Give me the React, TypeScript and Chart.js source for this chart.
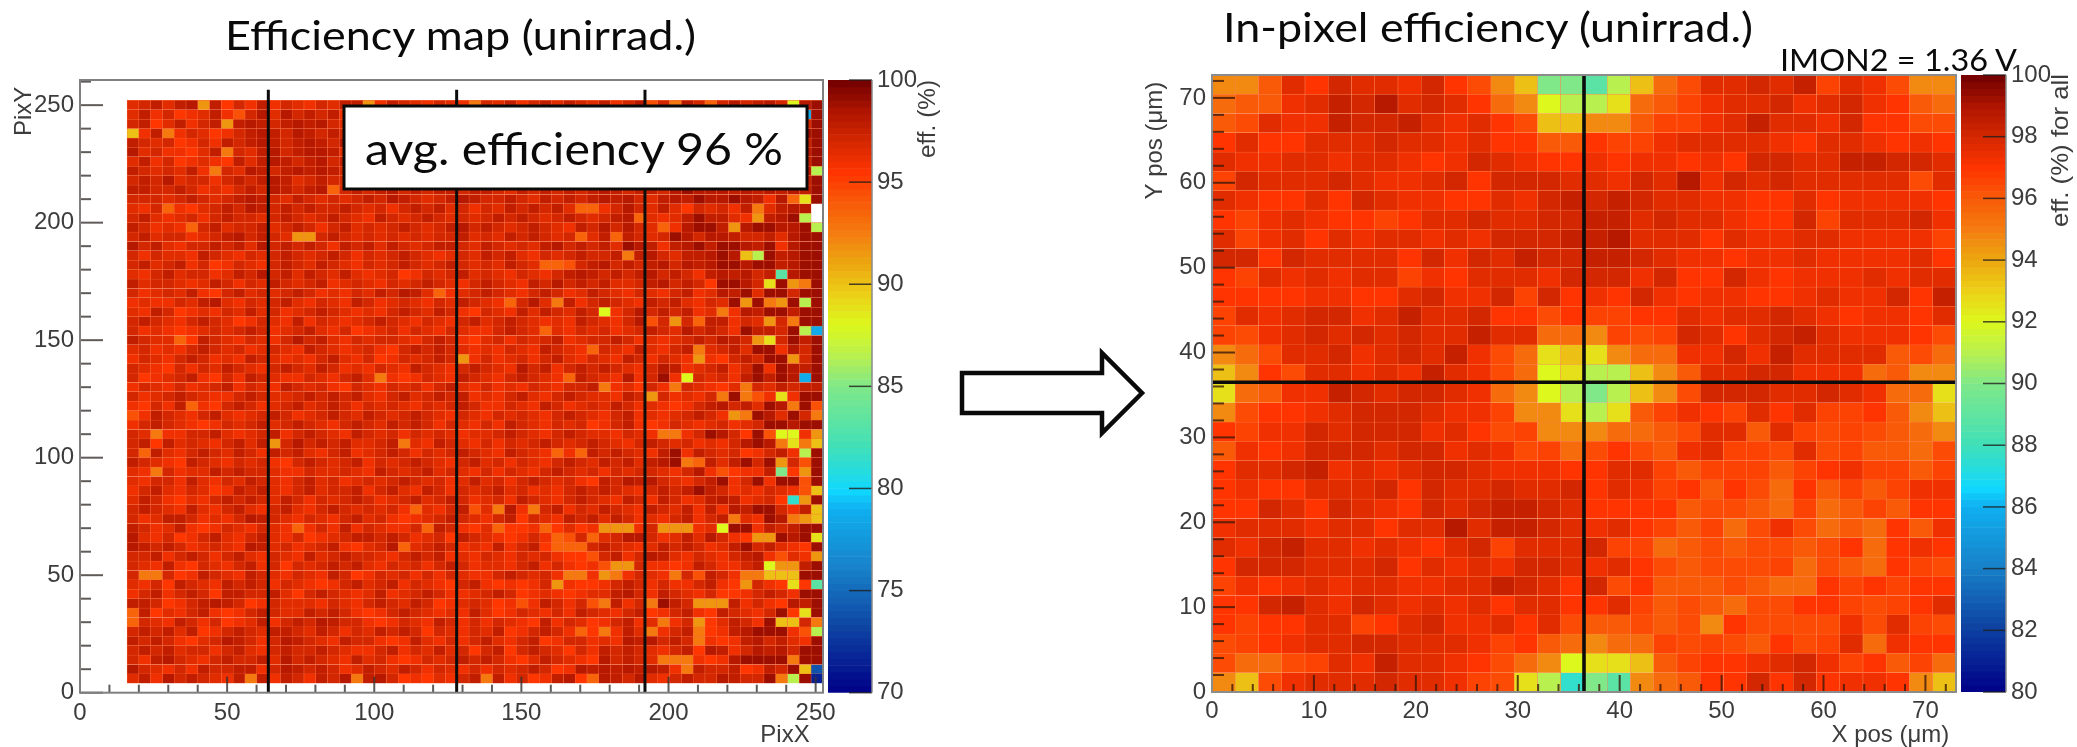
import React, { useEffect, useRef } from "react";
import Chart from "chart.js/auto";

// Colour levels, as a position on the colour bar (0 = bottom, 1 = top).
const LEVELS: Record<string, number> = {
  a: 0.965, b: 0.94, c: 0.915, d: 0.89, e: 0.87, f: 0.85, g: 0.83, h: 0.81, i: 0.785, j: 0.755, k: 0.72,
  l: 0.67, m: 0.63, n: 0.6, o: 0.55, p: 0.5, q: 0.44, r: 0.38, s: 0.33, t: 0.29, u: 0.13, v: 0.05,
};
// The pixel map's ordinary cells sit a little higher on its 70-100 bar.
const PIXEL_LEVELS: Record<string, number> = { c: 0.925, d: 0.903, e: 0.885, f: 0.868, g: 0.848 };
// The in-pixel map's darkest cells stop short of the maroon end of the bar; its orange cells are redder.
const IN_PIXEL_LEVELS: Record<string, number> = { a: 0.94, b: 0.92, c: 0.902, d: 0.885, e: 0.868, h: 0.82, i: 0.8, j: 0.775, k: 0.735 };

const PALETTE: [number, string][] = [
  [0, "#000088"], [0.1, "#0d3fa0"], [0.2, "#1880c8"], [0.3, "#10b0f0"], [0.33, "#10d8ff"], [0.4, "#40e0b8"],
  [0.5, "#80e888"], [0.55, "#b8f050"], [0.6, "#dcf81c"], [0.65, "#ecd018"], [0.7, "#eca810"], [0.75, "#f47c10"],
  [0.8, "#f85a08"], [0.85, "#ff3400"], [0.9, "#d42800"], [0.95, "#ae1400"], [1, "#700000"],
];

// In-pixel map: 32 rows (top to bottom) of 32 columns.
const IN_PIXEL_ROWS = [
  "kkidfcddecfhklpp" + "qoljhddcdbgdehkk",
  "jiiedbcadcdfjkno" + "omjigeddcedcefij",
  "ihdeebccbdedfhll" + "kkiggedbddecffhh",
  "fdffdddcddedffii" + "fggeddddefddefef",
  "deeddeddefecdeff" + "efeefefccddbbccd",
  "gcdddcdeedcfcccd" + "decdaecdcdddddhd",
  "deffdfcdeeffdecb" + "cbcddeeffdfeeeef",
  "fgedeffgfddcddcc" + "bbdcddeffcgdddce",
  "dgedfdeddedecccb" + "badddfdeeddeeeeg",
  "ccfcddddfcecdbcc" + "bbcdeefeedeeeedf",
  "fgdededdgefdddec" + "ccecffcefeeededd",
  "ffffeeffdceecgcf" + "efcefeeffedeecfb",
  "gdedccedbddcffhf" + "ggffdeddcdefeefd",
  "ghedcdcdcddbddjj" + "kghgcdfdcbdeeefh",
  "kjhddcedcdbehjml" + "mkjjeecebddddihj",
  "lkfhddedebdehjnm" + "oolkiddcceeejikk",
  "mjieebcdccdejkno" + "polkhcccddcdejjm",
  "khffedcccdeegkkm" + "omigefgdfdggfikl",
  "fgeecdcccedfhgkk" + "kjjihddidghghijk",
  "iefecccdccedehgj" + "hfhiedgghdhgiijh",
  "fddcbededccdeeef" + "fddgigggigfeggig",
  "feffdddcfcddcddc" + "fdegfifhjfigigee",
  "ffcdfcdefcdcbbcd" + "ffffihhijgjigiff",
  "edddeddfddadbbcd" + "edfgigjhehjijfie",
  "decbddedefdcgddd" + "cggjihihhihfjfef",
  "fcccdddcfdedeccd" + "edfhihhhgjhijfgh",
  "gefededdeeddbcdf" + "chfiiihijjfgfgff",
  "ffcbdecdededfddf" + "fdgihijhhffghgfd",
  "fgffddgfdceedfdh" + "iihihkfhhhhehdgh",
  "hgfeddccdddegfij" + "kjjghghifhgdjeff",
  "hjjhgdebddefhjkn" + "mmligffedcegfigj",
  "klhedddcddeghmor" + "pqkjiffcfcfeefkl",
];

// Pixel map: 62 rows (top to bottom) of 59 columns; "." = no cell drawn (empty or under the label box).
const HID = ".......... .......... ..........";
const PIXEL_ROWS = [
  "edcecbfcgd fcfdefdecc efcdefdefe decfdcecde cfdbhdcbdc dbdcbdcba",
  "ecfdgfecfh dbebdcdcf. " + HID + " .......ta",
  "dcgecfdcdc bcdcbcbde. " + HID + " .......da",
  "kfcefdegfd cbcdbcdcd. " + HID + " .......aa",
  "cdedgfdfcd cbcdcbcdb. " + HID + " .......ca",
  "bedffgecbd ecbdcbbce. " + HID + " .......ba",
  "ecfdgfefgc ecbcdcbdc. " + HID + " .......ca",
  "cdedecffde bcdcbcbcd. " + HID + " .......ba",
  "dcdbeddfdc dcbcedcdd. " + HID + " .......ca",
  "ccddcdfefd cdbcdcbidc dcbdcdccdc cdecdcdcdc bcdccdbabb bcbcbcbca",
  "dddedcdedc bcdecdeded cdbcdedcbc ddcdecdcdc bcbdecbcab babcfbcba",
  "efdifgedcd bcdcdcddcd edfdcdcedf decdcdceid fdbdecegde dfcdecbb.",
  "dcefedfdcd dedcdedcde fcdedcdede dcdcdedcde dcbdefecdc cefdcbab.",
  "cdfefidced dcedcdfdce dedcdedcbd cdedcdefcd bdbdeafbab cbbcbbbaa",
  "dceddfedcb dcdefkdcde dedededdce decdcdedie cdcdedabdb bcddcebaa",
  "bdcefddcdc ebdcdcdfcd cecdedccde cdedecbdcd ceabcfcbdc bcbccfbaa",
  "dfdeefcdef dedcdedcdf dedcdefede cdcefdedcd dcecbdeccb cbbddcbaa",
  "dcedcfdgfd efdcdecdef dedcdedcde decdefihdc bdcdcbdbcb abbabcbaa",
  "efdceddfec dbdcecdece fedgfdedce defdefdcbc dcdcbdcdfc bcbdcfbaa",
  "ceddefecdf decdedcfed efdedcdefd cdefcdbdcd ceedcbdcdg babdcbbba",
  "dfedecfgdc ededcdfefd ecdbcedfed cdefdcdfec defdefdcfe bcbecddba",
  "feffdecbef dedcefdefc dfedefdecd efcdbedcfd cdefcdcefd ecbbcabca",
  "efcdgfefde cedfedcdef efdcdecdfg defcecdecd dfdbdcdcfe dfbcbbcaa",
  "dcdefdcdeg fdefcfdefe dcdefdefdc edcdefefcd efdbhdfdec cfdebdcba",
  "dfefgfeded cdfedcefdg fedfdefdef fdcdedefde dfedcdebdc dfeccdbca",
  "cdeefgcdef defdbdcefd eddefdcdfg edfdedcfed dcdfefedcd bcdfedcca",
  "edfefdcded fedefcdefe dfgdcdcdef efdefcdefd defcefdcfe dcedcfbda",
  "fdefdcdfef cdefefdcef dgfdedcdef dfedfdcefd efcdfdefcf gdcdacbda",
  "defgdfdecd efdcdecdfe fdefcdefdc defbdcfdcd cdefdbcfed cfdefcbca",
  "dgfedcfgdf cdeffdefdc edfgfdefcd efdcdeffcd efbfdefcde dfcgcabfa",
  "fdefdfedcf defcdedfgd efdedfdcef dfefdefddc hfegdfcdef gefdecdcc",
  "dfedcdeffd cdeedcdcdc efdcedcdcf efdcefdcde efcdcdfefd ccbhfefab",
  "fgdfcdfgdc dfedcedcdf dedefdedcd ffdefcdfed ecdfefgfdc bdcefbcfh",
  "hfcdefdcef edcdfedcde cdedcdefde fdedefdcde fdcfefedcd fcdgbecdj",
  "fdcdefgfde dcedcdefdc decdcdfdef dfcdefdedg fdcfgfdefe dfedfcbcb",
  "defffddcef edcfdcdefc dedfdedefe edcdefdcde efdefhgfdc bdgbhfffk",
  "dcgcedefdc ecedbdcdce edcdefcdef dfdedcdedc defdcdedfe fdbcbhmjl",
  "dgcefdcdec dfcdcefdcf edcdfdedcd efcdefefic dcdefcefcd edgfdcfoa",
  "cdefgcdefd edfgdcdedc fdedcdefdc edfdefdcde cdcecbgfdc ecbdcfdha",
  "efjdfeecdc ddeffdeede fcdedcedef dfdefdcded fdeddefdbf hgffcdgka",
  "efddfcefde cdefdcedfe dedcdedfec edfdcdedfg cdbcbdefdc bfdefbbha",
  "fdcefdegfc dcefdceddc fdcefcdfde dcedfefdcd cdefdcdcdc dfefdefhl",
  "ecdfgefdcd cdecdfdedc dfedcedcdf edfcdefdcd efcdfcdfec bcfedgrha",
  "dcdefcefdc efdcefdcde dedfdefdch edbfjdcfde cdefcdecfc fbcbcdfcl",
  "dfeccdfefd bcdefdefdc edfgfedcde fdcgdefcdc ecdfefdcfd cdefcbjkl",
  "cdfecfgfde fdefkfdfcf deffdicdfg efggfigegf kcefdkkkfe fnafcdcaa",
  "befdgfdcef dcefdgfedc cdcdfedgcd efgfdfihdc edbbdfeceb dfggfebcn",
  "bcdcdfedef bcedfedcfg edbcedcdfe fcfdcgiiid cdefecdcdf ecbdcefga",
  "ddcfdcdfdc efdefcedcd defdcdcfef defdedfggh dcfdbcefde fdcbfhefk",
  "defcfgdefd cfdgdedcdc efdedfdcdf eefdcfdfgf hicdffgfcd ffdcdnkca",
  "dijdgfcdef cdefdefcdg fdedfdfdef fdcdedfjgf kjfdefgdhc dfcjflldb",
  "efdgcdefcd cdfdefgfdc edcfdefgdc fgfgfdefgg fdcdfdffdc fgkdfgmgq",
  "fdcfdcdgcc ddcegdcdef ecfedcdffe dcdgfefgfe ecbdfcdefd ggfdcdfba",
  "ccdgfdcbcd gfdeeefdef dcdecdgfed egfhfcdfdh jcfdfkcdfk fcfdfgbcb",
  "bcgefdcfgf dcdeecdcdf gfdcdefefc egfdefdfcd efdcgfdcfg cdefdbgmb",
  "idefcdfdgf ecfdcdbcdd fgfdefcdfd fdefgcfdeg fdcfejfdkg ecdfcaldj",
  "dcdcecgfdc deccdecdfd ecdcdgdefd ecgfdcdfdg gfcejfdcjg fcbcbbfhb",
  "cdcdfgedbc dfdbcdefcd dfgfcefdfd cefdcgfddf efbcbdcdjf gfcbdcefb",
  "dcdceddfdc efdcddcdef fdcfdecedg dcgdcdegdf cdcdefdcgb cfdbcbdaa",
  "dfcbdefdcd dcebdcdefc edfgfdedcd cdfgecdefg bdcdefjcfg fbcbfaiaa",
  "bdefdfcddc cfdbcdcdfe cdecdfdefd fdedcdgfbc bcbcbcfjcd dcgfcdcld",
  "ecfbdcdefc jcfcdfcdbj cbdgfgefdc jcfdgfcbgi bcdbefdcdd bcddgjoad",
];

// Individually read pixels: [row, column] of the darkest cells.
const PIXEL_DARK: number[][] = [
  [12, 48], [13, 49], [13, 48], [13, 53], [13, 54], [15, 48], [15, 51], [15, 50], [16, 50], [15, 54], [16, 54], [17, 54],
  [17, 51], [19, 50], [20, 52], [20, 54], [19, 55], [20, 55], [20, 57], [21, 53], [21, 51], [22, 54], [22, 55], [21, 56],
  [23, 57], [24, 52], [24, 56], [25, 56], [26, 53], [26, 54], [27, 54], [27, 55], [28, 53], [28, 55], [29, 53], [29, 45],
  [31, 51], [31, 57], [31, 58], [32, 54], [32, 57], [33, 53], [33, 56], [34, 54], [34, 55], [34, 57], [34, 58], [35, 49],
  [35, 53], [36, 53], [37, 46], [37, 58], [38, 46], [38, 52], [38, 54], [38, 58], [39, 58], [40, 50], [40, 53], [40, 55],
  [40, 56], [41, 48], [42, 58], [43, 54], [43, 53], [44, 54], [45, 51], [45, 57], [45, 58], [46, 55], [46, 57], [47, 52],
  [47, 58], [49, 58], [50, 57], [50, 58], [52, 57], [52, 58], [53, 45], [53, 58], [54, 55], [54, 58], [55, 54], [56, 55],
  [56, 53], [56, 54], [57, 58], [58, 57], [58, 58], [59, 57], [59, 58], [59, 52], [59, 53], [59, 54], [59, 55], [60, 56],
  [61, 54], [61, 57],
];

// Individually read pixels of a lighter colour: [row, column, level].
const PIXEL_LIGHT: [number, number, string][] = [
  [0, 56, "n"], [0, 46, "j"], [0, 49, "i"], [1, 57, "t"], [7, 58, "o"], [10, 57, "m"], [10, 56, "i"], [11, 53, "j"], [12, 53, "k"],
  [12, 57, "o"], [13, 58, "o"], [13, 51, "k"], [13, 45, "i"], [16, 52, "l"], [16, 53, "o"], [16, 42, "j"], [18, 55, "q"], [19, 54, "m"],
  [19, 56, "k"], [19, 57, "j"], [21, 52, "k"], [21, 54, "j"], [21, 55, "k"], [21, 57, "o"], [22, 50, "j"], [23, 46, "k"], [23, 54, "k"],
  [23, 56, "j"], [23, 48, "i"], [24, 57, "o"], [24, 58, "t"], [25, 54, "m"], [25, 53, "k"], [26, 48, "j"], [27, 48, "k"], [27, 56, "k"],
  [29, 47, "n"], [29, 57, "t"], [30, 46, "j"], [30, 52, "j"], [0, 6, "k"], [0, 20, "k"], [0, 29, "j"], [2, 8, "k"], [3, 0, "l"], [3, 3, "j"],
  [5, 8, "j"], [7, 7, "j"], [9, 17, "i"], [11, 3, "i"], [11, 39, "i"], [13, 5, "i"], [14, 14, "k"], [14, 41, "i"], [12, 43, "i"], [17, 35, "i"],
  [20, 26, "i"], [21, 32, "i"], [21, 36, "j"], [22, 40, "n"], [25, 4, "i"], [24, 35, "i"], [26, 39, "i"], [27, 28, "k"], [29, 37, "i"],
  [29, 21, "j"], [30, 40, "j"], [31, 44, "k"], [31, 50, "j"], [31, 52, "j"], [31, 55, "m"], [32, 56, "j"], [32, 5, "i"], [33, 51, "k"],
  [33, 52, "j"], [33, 58, "j"], [35, 55, "n"], [35, 56, "n"], [35, 45, "j"], [35, 46, "j"], [35, 58, "k"], [35, 2, "j"], [36, 56, "m"],
  [36, 57, "j"], [36, 58, "l"], [36, 55, "j"], [36, 12, "k"], [36, 23, "j"], [37, 57, "o"], [37, 1, "i"], [37, 36, "i"], [38, 55, "k"],
  [38, 47, "j"], [38, 48, "i"], [39, 55, "p"], [39, 57, "k"], [39, 2, "j"], [41, 58, "l"], [42, 56, "r"], [42, 57, "k"], [43, 58, "l"],
  [43, 31, "j"], [43, 24, "i"], [44, 58, "l"], [44, 56, "j"], [44, 57, "k"], [44, 51, "j"], [45, 50, "n"], [45, 45, "k"], [45, 46, "k"],
  [45, 47, "k"], [45, 42, "k"], [45, 41, "k"], [45, 14, "i"], [45, 31, "i"], [46, 58, "m"], [46, 53, "k"], [46, 54, "k"], [46, 39, "i"],
  [47, 23, "i"], [47, 36, "i"], [47, 37, "i"], [47, 38, "i"], [48, 58, "k"], [49, 54, "n"], [49, 55, "k"], [49, 41, "k"], [49, 42, "k"],
  [50, 54, "l"], [50, 55, "l"], [50, 46, "j"], [50, 52, "j"], [50, 1, "j"], [50, 2, "j"], [50, 38, "j"], [51, 52, "k"], [51, 56, "m"],
  [51, 58, "q"], [51, 36, "k"], [53, 44, "j"], [53, 48, "k"], [53, 50, "k"], [54, 57, "m"], [54, 0, "i"], [55, 48, "k"], [55, 45, "j"],
  [55, 55, "l"], [55, 58, "j"], [56, 58, "o"], [56, 48, "j"], [56, 40, "j"], [56, 38, "i"], [57, 48, "j"], [59, 47, "j"], [59, 45, "j"],
  [59, 56, "j"], [60, 57, "l"], [60, 58, "u"], [60, 47, "j"], [61, 55, "j"], [61, 56, "o"], [61, 58, "v"], [61, 10, "j"], [61, 19, "j"],
  [61, 30, "j"], [61, 39, "i"],
];

const PIXEL_X_TICKS = [0, 50, 100, 150, 200, 250];
const PIXEL_Y_TICKS = [0, 50, 100, 150, 200, 250];
const IN_PIXEL_TICKS = [0, 10, 20, 30, 40, 50, 60, 70];
const CORE_COLUMN_EDGES = [64, 128, 192];
const IN_PIXEL_CENTRE = 36.5;

const TICK_FONT = "'Liberation Sans', Arial, sans-serif";
const TEXT = "#3c3c3c";

function colorAt(t: number): string {
  let i = 0;
  while (i < PALETTE.length - 2 && t > PALETTE[i + 1][0]) i++;
  const [t0, c0] = PALETTE[i];
  const [t1, c1] = PALETTE[i + 1];
  const f = Math.min(1, Math.max(0, (t - t0) / (t1 - t0)));
  const p = (c: string, o: number) => parseInt(c.slice(o, o + 2), 16);
  const m = (o: number) => Math.round(p(c0, o) + (p(c1, o) - p(c0, o)) * f);
  return `rgb(${m(1)},${m(3)},${m(5)})`;
}

type Cell = { x: number; y: [number, number]; v: number };

function buildCells(grid: string[], levels: Record<string, number>, x0: number, dx: number, yTop: number, dy: number, zMin: number, zMax: number) {
  const cells: Cell[] = [];
  const colors: string[] = [];
  grid.forEach((row, r) => {
    [...row].forEach((ch, c) => {
      const t = levels[ch];
      if (t === undefined) return;
      cells.push({ x: x0 + (c + 0.5) * dx, y: [yTop - (r + 1) * dy, yTop - r * dy], v: zMin + t * (zMax - zMin) });
      colors.push(colorAt(t));
    });
  });
  return { cells, colors };
}

function pixelGrid(): string[] {
  const g = PIXEL_ROWS.map((s) => [...s.replace(/ /g, "").padEnd(59, "e").slice(0, 59)]);
  PIXEL_DARK.forEach(([r, c]) => (g[r][c] = "a"));
  PIXEL_LIGHT.forEach(([r, c, l]) => (g[r][c] = l));
  g[11][58] = ".";
  g[12][58] = ".";
  return g.map((a) => a.join(""));
}

type TickSpec = { xMajor: number; xMinor: number; yMajor: number; yMinor: number; xM: number; xm: number; yM: number; ym: number; color: string; frame: string };

const rootFrame = (s: TickSpec) => ({
  id: "rootFrame",
  afterDatasetsDraw(chart: any) {
    const { ctx, chartArea: a, scales } = chart;
    ctx.save();
    ctx.strokeStyle = s.color;
    ctx.lineWidth = 2;
    const x = scales.x;
    const y = scales.y;
    for (let v = 0; v <= x.max; v += s.xMinor) {
      const major = v % s.xMajor === 0;
      const px = x.getPixelForValue(v);
      ctx.beginPath();
      ctx.moveTo(px, a.bottom);
      ctx.lineTo(px, a.bottom - (major ? s.xM : s.xm));
      ctx.stroke();
    }
    for (let v = 0; v <= y.max; v += s.yMinor) {
      const major = v % s.yMajor === 0;
      const py = y.getPixelForValue(v);
      ctx.beginPath();
      ctx.moveTo(a.left, py);
      ctx.lineTo(a.left + (major ? s.yM : s.ym), py);
      ctx.stroke();
    }
    ctx.strokeStyle = s.frame;
    ctx.strokeRect(a.left, a.top, a.right - a.left, a.bottom - a.top);
    ctx.restore();
  },
});

const barTicks = {
  id: "barTicks",
  afterDatasetsDraw(chart: any) {
    const { ctx, chartArea: a, scales } = chart;
    ctx.save();
    ctx.strokeStyle = "rgba(30,30,30,.8)";
    ctx.lineWidth = 1.5;
    scales.y.ticks.forEach((t: any) => {
      const py = scales.y.getPixelForValue(t.value);
      ctx.beginPath();
      ctx.moveTo(a.right, py);
      ctx.lineTo(a.right - 23, py);
      ctx.stroke();
    });
    ctx.strokeStyle = "#8a8a8a";
    ctx.lineWidth = 1.5;
    ctx.beginPath();
    ctx.moveTo(a.right, a.top);
    ctx.lineTo(a.right, a.bottom);
    ctx.stroke();
    ctx.restore();
  },
};

function heatChart(
  canvas: HTMLCanvasElement,
  o: {
    grid: string[]; levels: Record<string, number>; x0: number; dx: number; yTop: number; dy: number; zMin: number; zMax: number; xMax: number; yMax: number;
    xTicks: number[]; yTicks: number[]; xTitle: string; yTitle: string; yTitlePad: number; xTitlePad: number; yWidth: number; xHeight: number; top: number; right: number;
    lines: { x: number; y: number }[][]; spec: TickSpec; lineW: number; tickPad: number; edge: string;
  }
) {
  const { cells, colors } = buildCells(o.grid, o.levels, o.x0, o.dx, o.yTop, o.dy, o.zMin, o.zMax);
  const font = { family: TICK_FONT, size: 24 };
  return new Chart(canvas, {
    type: "bar",
    data: {
      datasets: [
        ...o.lines.map((data) => ({
          type: "line" as const, data, borderColor: "#0c0c0c", borderWidth: o.lineW, pointRadius: 0, order: 0, parsing: { xAxisKey: "x", yAxisKey: "y" },
        })),
        {
          type: "bar" as const, data: cells as any, backgroundColor: colors, borderColor: o.edge, borderWidth: 0.5,
          barPercentage: 1, categoryPercentage: 1, order: 1, parsing: { xAxisKey: "x", yAxisKey: "y" },
        },
      ] as any,
    },
    options: {
      animation: false,
      responsive: false,
      events: [],
      layout: { padding: { top: o.top, right: o.right, left: 0, bottom: 0 } },
      plugins: { legend: { display: false }, tooltip: { enabled: false } },
      scales: {
        x: {
          type: "linear", min: 0, max: o.xMax, offset: false,
          grid: { display: false, drawTicks: false, offset: false }, border: { display: false },
          afterBuildTicks: (s: any) => { s.ticks = o.xTicks.map((value) => ({ value })); },
          ticks: { autoSkip: false, maxRotation: 0, font, color: TEXT, padding: o.tickPad },
          title: { display: true, text: o.xTitle, align: "end", color: TEXT, font: { ...font, lineHeight: 1 }, padding: { top: o.xTitlePad, bottom: 0 } },
          afterFit: (s: any) => { s.height = o.xHeight; },
        },
        y: {
          type: "linear", min: 0, max: o.yMax,
          grid: { display: false, drawTicks: false }, border: { display: false },
          afterBuildTicks: (s: any) => { s.ticks = o.yTicks.map((value) => ({ value })); },
          ticks: { autoSkip: false, font, color: TEXT, padding: 6 },
          title: { display: true, text: o.yTitle, align: "end", color: TEXT, font: { ...font, lineHeight: 1 }, padding: { top: o.yTitlePad, bottom: 0 } },
          afterFit: (s: any) => { s.width = o.yWidth; },
        },
      } as any,
    },
    plugins: [rootFrame(o.spec)],
  });
}

function colorBar(canvas: HTMLCanvasElement, zMin: number, zMax: number, step: number, top: number, barW: number, yWidth: number, bottom: number) {
  const strips = 90;
  const data: { x: number; y: [number, number] }[] = [];
  const colors: string[] = [];
  for (let i = 0; i < strips; i++) {
    const a = zMin + ((zMax - zMin) * i) / strips;
    const b = zMin + ((zMax - zMin) * (i + 1)) / strips;
    data.push({ x: 0.5, y: [a, b] });
    colors.push(colorAt((i + 0.5) / strips));
  }
  return new Chart(canvas, {
    type: "bar",
    data: { datasets: [{ data: data as any, backgroundColor: colors, barThickness: barW, parsing: { xAxisKey: "x", yAxisKey: "y" } }] as any },
    options: {
      animation: false,
      responsive: false,
      events: [],
      layout: { padding: { top, right: 0, left: 0, bottom } },
      plugins: { legend: { display: false }, tooltip: { enabled: false } },
      scales: {
        x: { type: "linear", min: 0, max: 1, display: false, offset: false },
        y: {
          type: "linear", position: "right", min: zMin, max: zMax,
          grid: { display: false, drawTicks: false }, border: { display: false },
          ticks: { stepSize: step, autoSkip: false, font: { family: TICK_FONT, size: 24 }, color: TEXT, padding: 5 },
          afterFit: (s: any) => { s.width = yWidth; },
        },
      } as any,
    },
    plugins: [barTicks],
  });
}

const abs = (left: number, top: number): React.CSSProperties => ({ position: "absolute", left, top });

export default function App() {
  const a = useRef<HTMLCanvasElement>(null);
  const b = useRef<HTMLCanvasElement>(null);
  const c = useRef<HTMLCanvasElement>(null);
  const d = useRef<HTMLCanvasElement>(null);

  useEffect(() => {
    const charts = [
      heatChart(a.current!, {
        grid: pixelGrid(), levels: { ...LEVELS, ...PIXEL_LEVELS }, x0: 16, dx: 4.008, yTop: 252, dy: 4, zMin: 70, zMax: 100, xMax: 252.5, yMax: 260.7, xTicks: PIXEL_X_TICKS, yTicks: PIXEL_Y_TICKS,
        xTitle: "PixX\u00a0\u00a0", yTitle: "PixY\u00a0", yTitlePad: 12, xTitlePad: -2, yWidth: 80, xHeight: 54.3, top: 80, right: 77,
        lines: CORE_COLUMN_EDGES.map((x) => [{ x, y: 0 }, { x, y: 256.5 }]), lineW: 3, tickPad: 6, edge: "#fb6a3c",
        spec: { xMajor: 50, xMinor: 10, yMajor: 50, yMinor: 10, xM: 16, xm: 8, yM: 23, ym: 11, color: "rgba(55,50,48,.8)", frame: "#808080" },
      }),
      colorBar(b.current!, 70, 100, 5, 80, 44, 76, 54.3),
      heatChart(c.current!, {
        grid: IN_PIXEL_ROWS, levels: { ...LEVELS, ...IN_PIXEL_LEVELS }, x0: 0, dx: 73 / 32, yTop: 72.7, dy: 72.7 / 32, zMin: 80, zMax: 100, xMax: 73, yMax: 72.7, xTicks: IN_PIXEL_TICKS, yTicks: IN_PIXEL_TICKS,
        xTitle: "X pos (\u03bcm)\u00a0", yTitle: "Y pos (\u03bcm)\u00a0", yTitlePad: 13, xTitlePad: 2, yWidth: 82, xHeight: 55, top: 75, right: 74,
        lines: [[{ x: IN_PIXEL_CENTRE, y: 0 }, { x: IN_PIXEL_CENTRE, y: 72.7 }], [{ x: 0, y: IN_PIXEL_CENTRE }, { x: 73, y: IN_PIXEL_CENTRE }]], lineW: 3.6, tickPad: 5, edge: "#ff8658",
        spec: { xMajor: 10, xMinor: 2, yMajor: 10, yMinor: 2, xM: 17, xm: 8, yM: 23, ym: 12, color: "rgba(60,25,10,.8)", frame: "#8c8c8c" },
      }),
      colorBar(d.current!, 80, 100, 2, 75, 45, 71, 55),
    ];
    return () => charts.forEach((ch) => ch.destroy());
  }, []);

  const cal = "Lato, Carlito, sans-serif";
  return (
    <div style={{ position: "absolute", left: 0, top: 0, width: 2077, height: 747, overflow: "hidden", background: "#fff" }}>
      <canvas ref={a} width={900} height={747} style={{ ...abs(0, 0), filter: "blur(0.5px)" }} />
      <canvas ref={b} width={120} height={747} style={{ ...abs(828, 0), filter: "blur(0.4px)" }} />
      <canvas ref={c} width={900} height={747} style={{ ...abs(1130, 0), filter: "blur(0.4px)" }} />
      <canvas ref={d} width={116} height={747} style={{ ...abs(1961, 0), filter: "blur(0.4px)" }} />
      <svg width={2077} height={747} style={abs(0, 0)}>
        <text x={225} y={50} fontFamily={cal} fontSize={41} textLength={471} lengthAdjust="spacingAndGlyphs" fill="#0a0a0a">Efficiency map (unirrad.)</text>
        <text x={1223} y={42} fontFamily={cal} fontSize={40} textLength={530} lengthAdjust="spacingAndGlyphs" fill="#0a0a0a">In-pixel efficiency (unirrad.)</text>
        <text x={1780} y={71} fontFamily={cal} fontSize={31} textLength={237} lengthAdjust="spacingAndGlyphs" fill="#0a0a0a">IMON2 = 1.36 V</text>
        <rect x={344} y={106} width={463} height={83} fill="#fff" stroke="#0a0a0a" strokeWidth={3} />
        <text x={365} y={165} fontFamily={cal} fontSize={45} textLength={418} lengthAdjust="spacingAndGlyphs" fill="#0a0a0a">avg. efficiency 96 %</text>
        <path d="M962 373 H1102 V353 L1142 393 L1102 433 V413 H962 Z" fill="#fff" stroke="#0a0a0a" strokeWidth={4.5} />
        <text transform="translate(935 158) rotate(-90)" fontFamily={TICK_FONT} fontSize={23} textLength={78} lengthAdjust="spacingAndGlyphs" fill={TEXT}>eff. (%)</text>
        <text transform="translate(2068 227) rotate(-90)" fontFamily={TICK_FONT} fontSize={24} textLength={153} lengthAdjust="spacingAndGlyphs" fill={TEXT}>eff. (%) for all</text>
      </svg>
    </div>
  );
}
